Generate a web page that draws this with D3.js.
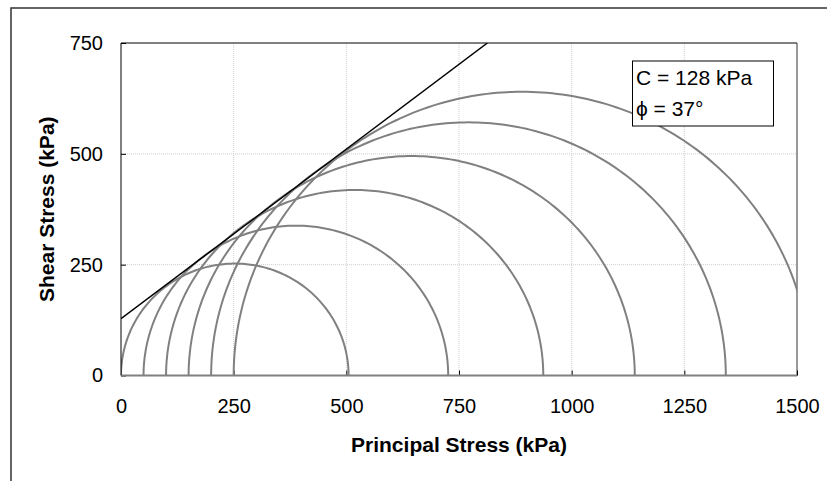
<!DOCTYPE html>
<html>
<head>
<meta charset="utf-8">
<script src="https://cdn.jsdelivr.net/npm/d3@7"></script>
<style>
  html, body { margin: 0; padding: 0; background: #fff; }
  svg { display: block; font-family: "Liberation Sans", Arial, sans-serif; }
</style>
</head>
<body>
<svg id="chart" width="827" height="481"></svg>
<script>
// Mohr circles: minor and major principal stresses (kPa)
const sigma3 = [0, 50, 100, 150, 200, 250];
const sigma1 = [505, 726, 937, 1140, 1342, 1530];
// Failure envelope endpoints (sigma, tau) in kPa
const envelopeSigma = [0, 813];
const envelopeTau = [128, 750];
// Ticks
const xTicks = [0, 250, 500, 750, 1000, 1250, 1500];
const yTicks = [0, 250, 500, 750];
const cohesion = "C = 128 kPa";
const friction = "\u03D5 = 37\u00B0";

const svg = d3.select("#chart");
const L = 121, R = 797, T = 43, B = 375.5;
const x = d3.scaleLinear().domain([0, 1500]).range([L, R]);
const y = d3.scaleLinear().domain([0, 750]).range([B, T]);

// outer frame (cropped at right/bottom)
svg.append("rect").attr("x", 11).attr("y", 8).attr("width", 900).attr("height", 600)
  .attr("fill", "none").attr("stroke", "#333").attr("stroke-width", 1.5);

svg.append("defs").append("clipPath").attr("id", "clip")
  .append("rect").attr("x", L).attr("y", T).attr("width", R - L).attr("height", B - T);

// grid
const grid = svg.append("g");
grid.selectAll("line.gx").data(xTicks.slice(1, -1)).join("line")
  .attr("x1", d => x(d)).attr("x2", d => x(d)).attr("y1", T).attr("y2", B)
  .attr("stroke", "#cfcfcf").attr("stroke-width", 1).attr("stroke-dasharray", "1,1");
grid.selectAll("line.gy").data(yTicks.slice(1, -1)).join("line")
  .attr("y1", d => y(d)).attr("y2", d => y(d)).attr("x1", L).attr("x2", R)
  .attr("stroke", "#cfcfcf").attr("stroke-width", 1).attr("stroke-dasharray", "1,1");

// plot border top/right
svg.append("line").attr("x1", L).attr("x2", R).attr("y1", T).attr("y2", T).attr("stroke", "#000");
svg.append("line").attr("x1", R).attr("x2", R).attr("y1", T).attr("y2", B).attr("stroke", "#333");

// axes
const xAxis = d3.axisBottom(x).tickValues(xTicks).tickSize(-5).tickPadding(23).tickFormat(d3.format("d"));
const yAxis = d3.axisLeft(y).tickValues(yTicks).tickSize(-5).tickPadding(18).tickFormat(d3.format("d"));
const gx = svg.append("g").attr("transform", `translate(0,${B})`).call(xAxis);
const gy = svg.append("g").attr("transform", `translate(${L},0)`).call(yAxis);
[gx, gy].forEach(g => {
  g.select(".domain").remove();
  g.selectAll("text").attr("font-size", 20).attr("fill", "#000")
    .attr("font-family", "'Liberation Sans', Arial, sans-serif");
  g.selectAll(".tick line").attr("stroke", "#000");
});
gx.selectAll("text").attr("dy", "0.71em");

// circles
const line = d3.line().x(d => x(d[0])).y(d => y(d[1]));
const circles = sigma3.map((s3, i) => {
  const c = (s3 + sigma1[i]) / 2, r = (sigma1[i] - s3) / 2;
  return d3.range(0, 181).map(a => {
    const t = Math.PI * (1 - a / 180);
    return [c + r * Math.cos(t), r * Math.sin(t)];
  });
});
svg.append("g").attr("clip-path", "url(#clip)")
  .selectAll("path").data(circles).join("path")
  .attr("d", line).attr("fill", "none").attr("stroke", "#808080").attr("stroke-width", 2);

// envelope
svg.append("path").attr("clip-path", "url(#clip)")
  .datum(envelopeSigma.map((s, i) => [s, envelopeTau[i]]))
  .attr("d", line).attr("fill", "none").attr("stroke", "#000").attr("stroke-width", 1.5);

// axis lines
svg.append("line").attr("x1", L).attr("x2", R).attr("y1", B).attr("y2", B)
  .attr("stroke", "#808080").attr("stroke-width", 2);
svg.append("line").attr("x1", L).attr("x2", L).attr("y1", T).attr("y2", B)
  .attr("stroke", "#000").attr("stroke-width", 1);

// titles
svg.append("text").attr("x", (L + R) / 2).attr("y", 452).attr("text-anchor", "middle")
  .attr("font-size", 21).attr("font-weight", "bold").text("Principal Stress (kPa)");
svg.append("text").attr("transform", `translate(54,${(T + B) / 2}) rotate(-90)`)
  .attr("text-anchor", "middle").attr("font-size", 21).attr("font-weight", "bold")
  .text("Shear Stress (kPa)");

// annotation box
svg.append("rect").attr("x", 632.5).attr("y", 61).attr("width", 141).attr("height", 65)
  .attr("fill", "#fff").attr("stroke", "#000").attr("stroke-width", 1);
svg.append("text").attr("x", 636).attr("y", 84.5).attr("font-size", 21).text(cohesion);
svg.append("text").attr("x", 636).attr("y", 116).attr("font-size", 21).text(friction);
</script>
</body>
</html>
